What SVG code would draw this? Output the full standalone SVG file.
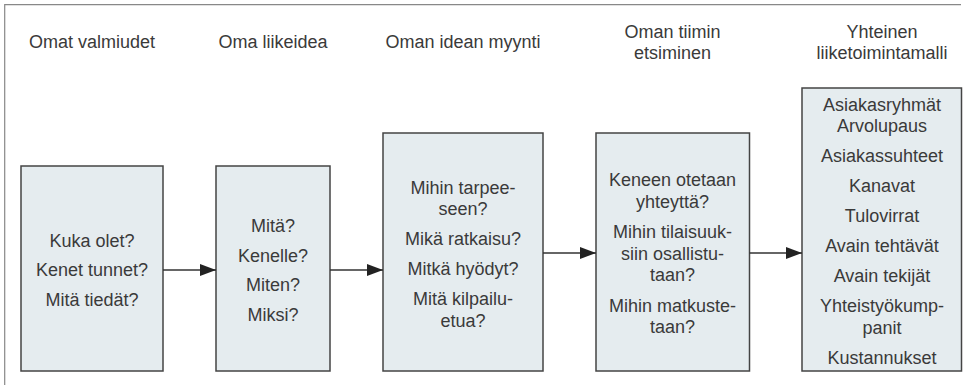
<svg xmlns="http://www.w3.org/2000/svg" width="965" height="385" viewBox="0 0 965 385">
<style>
  text { font-family: "Liberation Sans", Arial, sans-serif; font-size: 18px; fill: #3a3a3a; text-anchor: middle; }
  .box { fill: #e5ecef; stroke: #444; stroke-width: 1.5; }
  .frame { fill: none; stroke: #888; stroke-width: 1.2; }
  .conn { stroke: #333; stroke-width: 1.5; fill: none; }
</style>
<defs>
  <marker id="ah" markerWidth="16" markerHeight="12" refX="16" refY="6" orient="auto" markerUnits="userSpaceOnUse">
    <path d="M0,0 L16,6 L0,12 z" fill="#222"/>
  </marker>
</defs>
<rect width="965" height="385" fill="#fff"/>
<path class="frame" d="M4.7,385 L4.7,4.7 L961,4.7"/>

<g id="headers">
  <text x="92" y="48">Omat valmiudet</text>
  <text x="273" y="48">Oma liikeidea</text>
  <text x="463" y="48">Oman idean myynti</text>
  <text x="672.5" y="37.5">Oman tiimin</text>
  <text x="672.5" y="58.5">etsiminen</text>
  <text x="882" y="37.5">Yhteinen</text>
  <text x="882" y="58.5">liiketoimintamalli</text>
</g>

<g id="node1">
  <rect class="box" x="21" y="166" width="142" height="205"/>
  <text x="92" y="246.5">Kuka olet?</text>
  <text x="92" y="276">Kenet tunnet?</text>
  <text x="92" y="305.5">Mitä tiedät?</text>
</g>

<g id="node2">
  <rect class="box" x="216" y="166" width="114" height="205"/>
  <text x="273" y="232">Mitä?</text>
  <text x="273" y="261.5">Kenelle?</text>
  <text x="273" y="291">Miten?</text>
  <text x="273" y="320.5">Miksi?</text>
</g>

<g id="node3">
  <rect class="box" x="383" y="133" width="160" height="238"/>
  <text x="463" y="193.5">Mihin tarpee-</text>
  <text x="463" y="214.5">seen?</text>
  <text x="463" y="245">Mikä ratkaisu?</text>
  <text x="463" y="275">Mitkä hyödyt?</text>
  <text x="463" y="305">Mitä kilpailu-</text>
  <text x="463" y="326.5">etua?</text>
</g>

<g id="node4">
  <rect class="box" x="596" y="133" width="153.5" height="238"/>
  <text x="672.5" y="186">Keneen otetaan</text>
  <text x="672.5" y="207.5">yhteyttä?</text>
  <text x="672.5" y="238">Mihin tilaisuuk-</text>
  <text x="672.5" y="259.5">siin osallistu-</text>
  <text x="672.5" y="281">taan?</text>
  <text x="672.5" y="311.5">Mihin matkuste-</text>
  <text x="672.5" y="333">taan?</text>
</g>

<g id="node5">
  <rect class="box" x="802" y="88" width="159.5" height="283"/>
  <text x="882" y="111">Asiakasryhmät</text>
  <text x="882" y="132">Arvolupaus</text>
  <text x="882" y="162">Asiakassuhteet</text>
  <text x="882" y="192">Kanavat</text>
  <text x="882" y="222">Tulovirrat</text>
  <text x="882" y="252">Avain tehtävät</text>
  <text x="882" y="282">Avain tekijät</text>
  <text x="882" y="312">Yhteistyökump-</text>
  <text x="882" y="333.5">panit</text>
  <text x="882" y="363.5">Kustannukset</text>
</g>

<g id="connectors">
  <line class="conn" x1="163" y1="270" x2="216" y2="270" marker-end="url(#ah)"/>
  <line class="conn" x1="330" y1="270" x2="383" y2="270" marker-end="url(#ah)"/>
  <line class="conn" x1="543" y1="253" x2="596" y2="253" marker-end="url(#ah)"/>
  <line class="conn" x1="749.5" y1="253" x2="802" y2="253" marker-end="url(#ah)"/>
</g>
</svg>
